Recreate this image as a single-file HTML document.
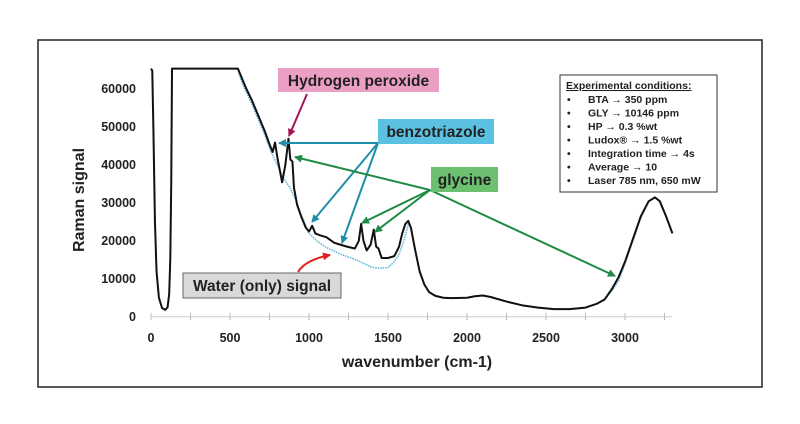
<!DOCTYPE html>
<html><head><meta charset="utf-8"><style>
body{margin:0;background:#fff;width:800px;height:424px;overflow:hidden}
svg{display:block}
text{font-family:"Liberation Sans",Arial,sans-serif;font-weight:bold}
</style></head><body>
<svg width="800" height="424" viewBox="0 0 800 424">
<rect x="38" y="40" width="724" height="347" fill="#fff" stroke="#222" stroke-width="1.5"/>
<line x1="151" y1="316.7" x2="672" y2="316.7" stroke="#ccc" stroke-width="1"/>
<g stroke="#bbb" stroke-width="1">
<line x1="151" y1="313" x2="151" y2="320"/><line x1="190.5" y1="313" x2="190.5" y2="320"/><line x1="230" y1="313" x2="230" y2="320"/><line x1="269.5" y1="313" x2="269.5" y2="320"/><line x1="309" y1="313" x2="309" y2="320"/><line x1="348.5" y1="313" x2="348.5" y2="320"/><line x1="388" y1="313" x2="388" y2="320"/><line x1="427.5" y1="313" x2="427.5" y2="320"/><line x1="467" y1="313" x2="467" y2="320"/><line x1="506.5" y1="313" x2="506.5" y2="320"/><line x1="546" y1="313" x2="546" y2="320"/><line x1="585.5" y1="313" x2="585.5" y2="320"/><line x1="625" y1="313" x2="625" y2="320"/><line x1="664.5" y1="313" x2="664.5" y2="320"/>
</g>
<g font-size="12.5" fill="#222" text-anchor="middle">
<text x="151" y="342">0</text><text x="230" y="342">500</text><text x="309" y="342">1000</text><text x="388" y="342">1500</text><text x="467" y="342">2000</text><text x="546" y="342">2500</text><text x="625" y="342">3000</text>
</g>
<g font-size="12.5" fill="#222" text-anchor="end">
<text x="136" y="321">0</text><text x="136" y="283">10000</text><text x="136" y="245">20000</text><text x="136" y="207">30000</text><text x="136" y="169">40000</text><text x="136" y="131">50000</text><text x="136" y="93">60000</text>
</g>
<text x="417" y="367" font-size="16" fill="#222" text-anchor="middle">wavenumber (cm-1)</text>
<text transform="translate(84,200) rotate(-90)" font-size="16" fill="#222" text-anchor="middle">Raman signal</text>
<g transform="translate(151,316.7) scale(0.158,-0.003787)" fill="none" stroke-linejoin="round">
<polyline vector-effect="non-scaling-stroke" stroke="#5ab4d6" stroke-width="1.5" stroke-dasharray="1.5 1" points="0,65500 8,65000 15,50000 25,25000 35,12000 50,5000 70,2300 90,1800 105,2500 115,6000 122,15000 128,35000 133,65500 550,65500 570,62500 600,59500 640,56000 680,52000 720,48000 760,43500 800,40000 840,36500 880,34000 920,30500 950,27000 1000,22000 1050,20000 1100,18500 1150,17500 1200,16500 1300,15000 1400,13000 1450,12800 1500,13000 1540,14500 1570,16500 1600,20000 1630,24500 1650,23000 1670,18000 1700,12000 1730,8500 1760,6500 1800,5500 1850,5000 1900,4900 2000,5000 2050,5400 2100,5600 2150,5200 2250,4000 2350,3000 2450,2400 2550,2000 2650,2000 2750,2400 2820,3400 2870,4500 2920,7000 2960,9500 3000,14000 3050,20000 3100,26000 3150,30500 3190,31500 3220,30500 3260,26500 3300,22000"/>
<polyline vector-effect="non-scaling-stroke" stroke="#111" stroke-width="2" points="0,65500 8,65000 15,50000 25,25000 35,12000 50,5000 70,2300 90,1800 105,2500 115,6000 122,15000 128,35000 133,65500 550,65500 565,64000 580,62500 600,60500 640,57000 680,53000 720,49000 750,45500 770,43500 785,46000 800,42000 830,35500 850,40000 870,47000 882,41500 895,41000 905,34000 925,29500 950,26500 980,23500 1000,22500 1020,24000 1040,22000 1070,21500 1110,21000 1160,19500 1200,19000 1240,18500 1290,18000 1315,20000 1330,24500 1345,20000 1365,17500 1390,19000 1410,23000 1425,18500 1440,18000 1460,15500 1500,15500 1540,16000 1570,18500 1590,22000 1610,24500 1628,25300 1645,23500 1670,18000 1700,12000 1730,8500 1760,6500 1800,5500 1850,5000 1900,4900 2000,5000 2050,5400 2100,5600 2150,5200 2250,4000 2350,3000 2450,2400 2550,2000 2650,2000 2750,2400 2820,3400 2870,4500 2920,7500 2960,10500 3000,14500 3050,20500 3100,26500 3150,30500 3190,31500 3220,30500 3260,26500 3300,22000"/>
</g>
<defs>
<marker id="mb" markerWidth="8" markerHeight="8" refX="7" refY="4" orient="auto" markerUnits="userSpaceOnUse"><path d="M0,0 L8,4 L0,8 z" fill="#1e8fa8"/></marker>
<marker id="mg" markerWidth="8" markerHeight="8" refX="7" refY="4" orient="auto" markerUnits="userSpaceOnUse"><path d="M0,0 L8,4 L0,8 z" fill="#1f8a45"/></marker>
<marker id="mp" markerWidth="8" markerHeight="8" refX="7" refY="4" orient="auto" markerUnits="userSpaceOnUse"><path d="M0,0 L8,4 L0,8 z" fill="#a0175a"/></marker>
<marker id="mr" markerWidth="8" markerHeight="8" refX="7" refY="4" orient="auto" markerUnits="userSpaceOnUse"><path d="M0,0 L8,4 L0,8 z" fill="#e02020"/></marker>
</defs>
<g stroke="#1e8fa8" stroke-width="2" fill="none">
<line x1="378" y1="143" x2="279" y2="143" marker-end="url(#mb)"/>
<line x1="378" y1="143" x2="312" y2="222" marker-end="url(#mb)"/>
<line x1="378" y1="143" x2="342" y2="243" marker-end="url(#mb)"/>
</g>
<g stroke="#1f8a45" stroke-width="2" fill="none">
<line x1="430" y1="190" x2="295" y2="157" marker-end="url(#mg)"/>
<line x1="430" y1="190" x2="362" y2="223" marker-end="url(#mg)"/>
<line x1="430" y1="190" x2="375" y2="232" marker-end="url(#mg)"/>
<line x1="430" y1="190" x2="615" y2="276" marker-end="url(#mg)"/>
</g>
<line x1="307" y1="94" x2="289" y2="136" stroke="#a0175a" stroke-width="2" marker-end="url(#mp)"/>
<path d="M298,272 Q305,260 330,255" stroke="#e02020" stroke-width="2" fill="none" marker-end="url(#mr)"/>
<rect x="278" y="68" width="161" height="24" fill="#ec9fc4"/>
<text x="358.5" y="86" font-size="15.5" fill="#222" text-anchor="middle">Hydrogen peroxide</text>
<rect x="378" y="119" width="116" height="25" fill="#5bc1e2"/>
<text x="436" y="137" font-size="15.5" fill="#222" text-anchor="middle">benzotriazole</text>
<rect x="431" y="167" width="67" height="25" fill="#6cc070"/>
<text x="464.5" y="185" font-size="15.5" fill="#222" text-anchor="middle">glycine</text>
<rect x="183" y="273" width="158" height="25" fill="#d9d9d9" stroke="#666" stroke-width="1"/>
<text x="262" y="291" font-size="15.5" fill="#222" text-anchor="middle">Water (only) signal</text>
<rect x="560" y="75" width="157" height="117" fill="#fff" stroke="#333" stroke-width="1"/>
<g font-size="10.5" fill="#222">
<text x="566" y="89" text-decoration="underline">Experimental conditions:</text>
<text x="567" y="103">•</text><text x="588" y="103">BTA → 350 ppm</text>
<text x="567" y="116.5">•</text><text x="588" y="116.5">GLY → 10146 ppm</text>
<text x="567" y="130">•</text><text x="588" y="130">HP → 0.3 %wt</text>
<text x="567" y="143.5">•</text><text x="588" y="143.5">Ludox® → 1.5 %wt</text>
<text x="567" y="157">•</text><text x="588" y="157">Integration time → 4s</text>
<text x="567" y="170.5">•</text><text x="588" y="170.5">Average → 10</text>
<text x="567" y="184">•</text><text x="588" y="184">Laser 785 nm, 650 mW</text>
</g>
</svg>
</body></html>
